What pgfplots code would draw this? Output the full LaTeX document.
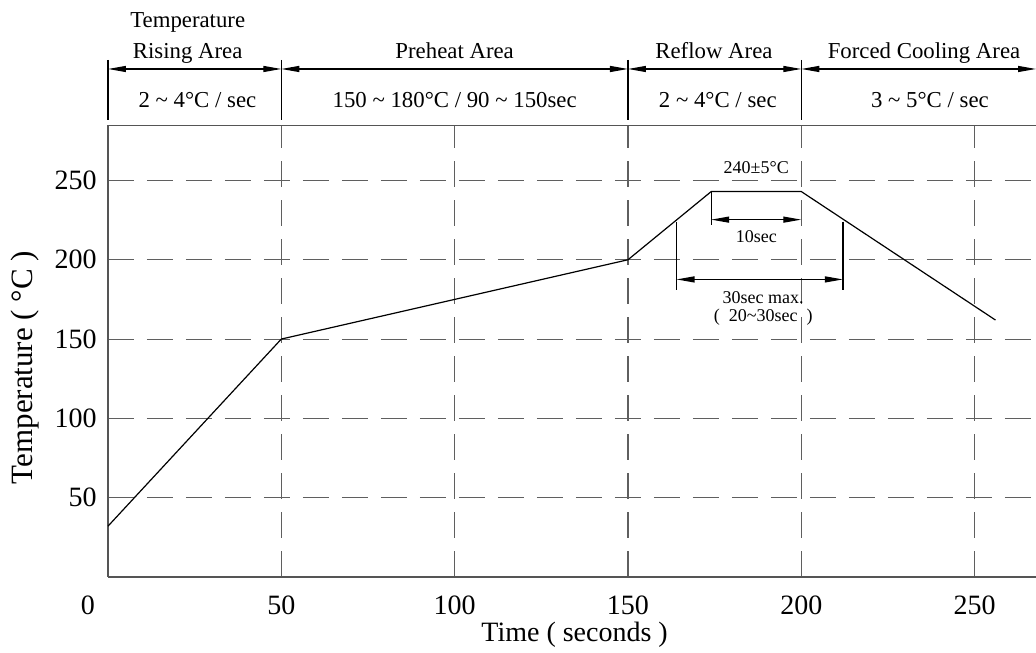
\documentclass[border=0pt]{standalone}
\usepackage{pgfplots}
\pgfplotsset{compat=1.18}
\usepackage{fontspec}
\setmainfont{Liberation Serif}
\usetikzlibrary{arrows.meta}

\definecolor{axisgray}{RGB}{85,85,85}
\definecolor{gridgray}{RGB}{95,95,95}

\tikzset{
  dim/.style={line width=0.6pt, {Triangle[length=9pt,width=3pt]}-{Triangle[length=9pt,width=3pt]}},
  sep/.style={line width=0.6pt},
  hdr/.style={font=\fontsize{11.4}{13}\selectfont, inner sep=0pt},
  small/.style={font=\fontsize{9}{10}\selectfont, inner sep=0pt},
}

\begin{document}
\begin{tikzpicture}
\begin{axis}[
  x=1.7335pt, y=0.793pt,
  xmin=0, xmax=267.7, ymin=0, ymax=284.7,
  axis x line=box, axis y line=left,
  axis line style={-, draw=axisgray, line width=0.7pt},
  xtick={50,100,150,200,250},
  ytick={50,100,150,200,250},
  extra x ticks={0},
  extra x tick style={grid=none, xticklabel style={xshift=-10pt}},
  major tick length=0pt,
  grid=major,
  major grid style={draw=gridgray, line width=0.55pt, dash pattern=on 13pt off 6.5pt},
  tick label style={font=\fontsize{14}{16}\selectfont},
  /pgf/number format/assume math mode=true,
  xticklabel style={anchor=north, inner sep=0pt, yshift=-9.3pt},
  yticklabel style={anchor=east, inner sep=0pt, xshift=-5.5pt},
  clip=false,
]

% reflow profile
\addplot[black, line width=0.6pt] coordinates {
  (0,32) (50,150) (150,200) (174,243) (200,243) (256,162)
};

% header: separators and arrows
\draw[sep] (axis cs:0,326) -- (axis cs:0,288.2);
\draw[sep] (axis cs:50,326) -- (axis cs:50,288.2);
\draw[sep] (axis cs:150,326) -- (axis cs:150,288.2);
\draw[sep] (axis cs:200,326) -- (axis cs:200,288.2);
\draw[dim] (axis cs:0,320.3) -- (axis cs:50,320.3);
\draw[dim] (axis cs:50,320.3) -- (axis cs:150,320.3);
\draw[dim] (axis cs:150,320.3) -- (axis cs:200,320.3);
\draw[dim] (axis cs:200,320.3) -- (axis cs:267.7,320.3);

\node[hdr, anchor=base] at (axis cs:23,346.2) {Temperature};
\node[hdr, anchor=base] at (axis cs:23,327.2) {Rising Area};
\node[hdr, anchor=base] at (axis cs:100,327.2) {Preheat Area};
\node[hdr, anchor=base] at (axis cs:174.8,327.2) {Reflow Area};
\node[hdr, anchor=base] at (axis cs:235.4,327.2) {Forced Cooling Area};

\node[hdr, anchor=base] at (axis cs:25.8,296.3) {2 \textasciitilde{} 4°C / sec};
\node[hdr, anchor=base] at (axis cs:100,296.3) {150 \textasciitilde{} 180°C / 90 \textasciitilde{} 150sec};
\node[hdr, anchor=base] at (axis cs:175.9,296.3) {2 \textasciitilde{} 4°C / sec};
\node[hdr, anchor=base] at (axis cs:237.1,296.3) {3 \textasciitilde{} 5°C / sec};

% peak dimensions
\draw[sep] (axis cs:174,243) -- (axis cs:174,222);
\draw[dim] (axis cs:174,225.3) -- (axis cs:200,225.3);
\node[small] at (axis cs:187,258.3) {240±5°C};
\node[small] at (axis cs:187,214.4) {10sec};
\draw[sep] (axis cs:164,224) -- (axis cs:164,180.8);
\draw[sep] (axis cs:212,224) -- (axis cs:212,180.8);
\draw[dim] (axis cs:164,187.6) -- (axis cs:212,187.6);
\node[small] at (axis cs:189,175.8) {30sec max.};
\node[small] at (axis cs:189,164) {(\ \ 20\textasciitilde30sec\ \ )};

% axis titles
\node[rotate=90, font=\fontsize{15.5}{17}\selectfont] at (axis cs:-24,132) {Temperature ( °C )};
\node[font=\fontsize{14}{16}\selectfont] at (axis cs:134.6,-36.5) {Time ( seconds )};

\coordinate (bbA) at (axis cs:-31.15,363.8);
\coordinate (bbB) at (axis cs:267.7,-47.9);
\end{axis}
\pgfresetboundingbox
\useasboundingbox (bbA) rectangle (bbB);
\end{tikzpicture}
\end{document}
